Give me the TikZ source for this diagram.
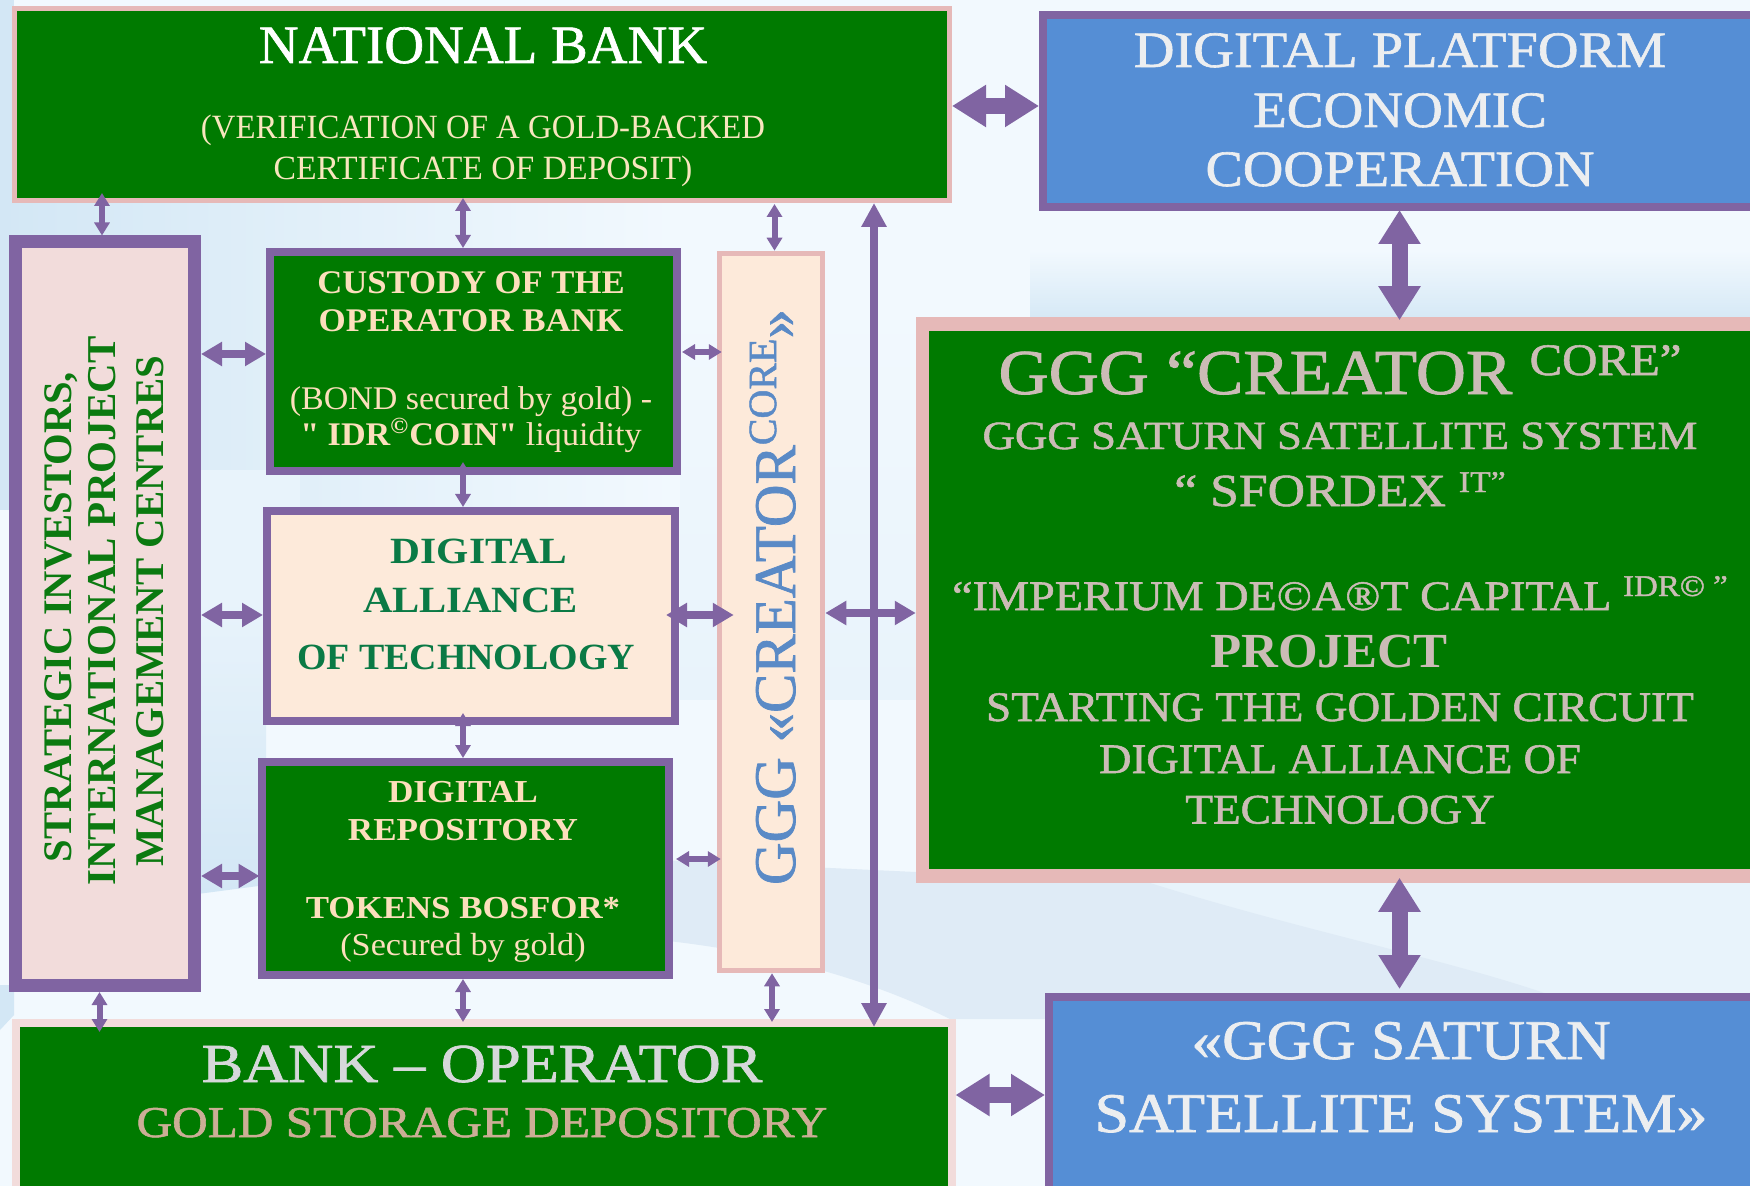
\documentclass[tikz,border=0pt]{standalone}
\usepackage{graphicx}
\usepackage{fontspec}
\setmainfont{Liberation Serif}
\newfontfamily\plainq{Liberation Serif}
\newfontfamily\bev{Liberation Serif}[FakeBold=1.2]
\usetikzlibrary{arrows.meta}
\definecolor{purp}{HTML}{8064A2}
\definecolor{pinkb}{HTML}{E6B9B8}
\definecolor{pinkl}{HTML}{F2DCDB}
\definecolor{peach}{HTML}{FDEADA}
\definecolor{grn}{HTML}{007A00}
\definecolor{blu}{HTML}{558ED5}
\definecolor{cream}{HTML}{F8E6BE}
\definecolor{custc}{HTML}{FCDFBC}
\definecolor{rosegrey}{HTML}{CBBCB6}
\definecolor{silver}{HTML}{D6D8DA}
\definecolor{pearl}{HTML}{ECEEF0}
\definecolor{bronze}{HTML}{CCAE96}
\definecolor{tealg}{HTML}{0A7A45}
\definecolor{stratg}{HTML}{0B7A10}
\definecolor{vblue}{HTML}{5A8AC6}
\definecolor{bgbase}{HTML}{F2F9FE}
\definecolor{bga}{HTML}{D3E7F5}
\definecolor{bgb}{HTML}{DFEBF6}
\definecolor{bgc}{HTML}{E8F3FB}
\newcommand\stk[1]{\vbox{\offinterlineskip\halign{\hfil##\hfil\cr #1\crcr}}}
\newcommand\txl[3]{\fontsize{#1}{#1}\selectfont\rule{0pt}{#2pt}\smash{#3}}
\newcommand\sups[3]{\raisebox{#1pt}{\fontsize{#2}{#2}\selectfont #3}}
\newcommand\sx[2]{\scalebox{#1}[1]{#2}}
\newcommand\bx[6]{%
  \pgfmathsetmacro\bxcx{(#3+#5)/2}\pgfmathsetmacro\bxcy{(#4+#6)/2}%
  \pgfmathsetmacro\bxw{(#5-#3)*0.5}\pgfmathsetmacro\bxh{(#6-#4)*0.5}%
  \node[#1,minimum width=\bxw pt,minimum height=\bxh pt] (#2) at (\bxcx,\bxcy) {};}
\tikzset{
  x=0.5pt,y=-0.5pt,
  boxn/.style={rectangle,inner sep=0pt,outer sep=auto,draw=#1},
  txt/.style={inner sep=0pt,outer sep=0pt,anchor=north,text=#1},
  arrs/.style={line width=3pt,purp,{Triangle[length=6.5pt,width=7.5pt]}-{Triangle[length=6.5pt,width=7.5pt]}},
  arrm/.style={line width=4pt,purp,{Triangle[length=10.5pt,width=11.5pt]}-{Triangle[length=10.5pt,width=11.5pt]}},
  arrl/.style={line width=4pt,purp,{Triangle[length=12pt,width=12pt]}-{Triangle[length=12pt,width=12pt]}},
  arrb/.style={line width=8pt,purp,{Triangle[length=17pt,width=20pt]}-{Triangle[length=17pt,width=20pt]}},
}
\begin{document}
\begin{tikzpicture}
\useasboundingbox (0,0) rectangle (1750,1186);
\clip (0,0) rectangle (1750,1186);
% background
\fill[bgbase] (0,0) rectangle (1750,1186);
\shade[left color=bga,right color=bgbase] (0,200) rectangle (680,510);
\fill[bgc] (190,470) -- (300,470) -- (300,620) -- (190,620) -- cycle;
\shade[top color=bgc,bottom color=bga] (190,600) -- (266,600) -- (266,885) -- (190,895) -- cycle;
\shade[top color=bgbase,bottom color=bgc] (680,300) -- (916,300) -- (916,700) -- (680,700) -- cycle;
\fill[bgc] (1040,883) -- (1750,883) -- (1750,995) -- (1040,995) -- cycle;
\fill[bgb] (660,860) -- (1150,883) .. controls (1300,930) and (1450,960) .. (1550,995) -- (1045,995) -- (1045,1019) -- (950,1019) .. controls (850,970) and (750,950) .. (660,940) -- cycle;
\shade[top color=bgbase,bottom color=bga] (1030,250) -- (1750,250) -- (1750,325) -- (1030,325) -- cycle;
\fill[bga] (0,0) rectangle (14,205);
\fill[bga] (0,985) -- (14,985) -- (14,1015) -- (0,1030) -- cycle;
% boxes
\bx{boxn=pinkb,fill=grn,line width=2.5pt}{nat}{14.5}{8.5}{949.5}{200.5}
\bx{boxn=purp,fill=blu,line width=4pt}{plat}{1043}{15}{1800}{207}
\bx{boxn=pinkb,fill=grn,line width=6.75pt}{core}{922.5}{324}{1800}{876}
\bx{boxn=purp,fill=blu,line width=4pt}{sat}{1049}{997}{1800}{1300}
\bx{boxn=pinkl,fill=grn,line width=4pt}{bank}{16}{1023}{951.5}{1300}
\bx{boxn=purp,fill=pinkl,line width=6.5pt}{strat}{15.75}{242}{194.5}{985.5}
\bx{boxn=purp,fill=grn,line width=4pt}{cust}{270}{252}{677}{471}
\bx{boxn=purp,fill=peach,line width=4pt}{alli}{267}{511}{675}{721}
\bx{boxn=purp,fill=grn,line width=4pt}{repo}{261.5}{762}{669}{975}
\bx{boxn=pinkb,fill=peach,line width=2.75pt}{crea}{719.5}{253.5}{822.5}{970.5}
% helper x / y positions
\coordinate (xa) at (102,0);
\coordinate (xb) at (463,0);
\coordinate (xc) at (774.5,0);
\coordinate (xd) at (874,0);
\coordinate (xe) at (99.5,0);
\coordinate (xf) at (772,0);
\coordinate (xg) at (1399.5,0);
\coordinate (ya) at (0,354);
\coordinate (yb) at (0,352);
\coordinate (yc) at (0,615);
\coordinate (yd) at (0,613);
\coordinate (ye) at (0,876);
\coordinate (yf) at (0,859);
\coordinate (yg) at (0,106);
\coordinate (yh) at (0,1095);
% connectors
\draw[arrs,shorten <=-5pt] (nat.south -| xa) -- (strat.north -| xa);
\draw[arrs,shorten <=-2.5pt] (nat.south -| xb) -- (cust.north -| xb);
\draw[arrs,shorten <=.5pt] (nat.south -| xc) -- (crea.north -| xc);
\draw[arrl,shorten >=-4pt] (nat.south -| xd) -- (bank.north -| xd);
\draw[arrm] (strat.east |- ya) -- (cust.west |- ya);
\draw[arrs,shorten >=-2.5pt,shorten <=.5pt] (cust.east |- yb) -- (crea.west |- yb);
\draw[arrs,shorten <=-6.5pt] (cust.south -| xb) -- (alli.north -| xb);
\draw[arrm] (strat.east |- yc) -- (alli.west |- yc);
\draw[arrm,shorten <=-6.5pt,shorten >=-8.5pt] (alli.east |- yc) -- (crea.west |- yc);
\draw[arrm] (crea.east |- yd) -- (core.west |- yd);
\draw[arrs,shorten <=-6pt] (alli.south -| xb) -- (repo.north -| xb);
\draw[arrm,shorten >=-1pt] (strat.east |- ye) -- (repo.west |- ye);
\draw[arrs,shorten <=1.5pt,shorten >=-2pt] (repo.east |- yf) -- (crea.west |- yf);
\draw[arrs,shorten >=-6.5pt] (strat.south -| xe) -- (bank.north -| xe);
\draw[arrs,shorten >=-1.5pt] (repo.south -| xb) -- (bank.north -| xb);
\draw[arrs,shorten >=-1.5pt] (crea.south -| xf) -- (bank.north -| xf);
\draw[arrb] (nat.east |- yg) -- (plat.west |- yg);
\draw[arrb,shorten >=-1.5pt,shorten <=-.5pt] (plat.south -| xg) -- (core.north -| xg);
\draw[arrb,shorten <=-2.5pt,shorten >=2pt] (core.south -| xg) -- (sat.north -| xg);
\draw[arrb] (bank.east |- yh) -- (sat.west |- yh);
% texts
\node[txt=white] (tnat) at (483,63) {\stk{\txl{27}{0}{\bev\sx{1.02}{NATIONAL BANK}}\cr
  \color{cream}\txl{17}{38}{\sx{.965}{(VERIFICATION OF A GOLD-BACKED}}\cr
  \color{cream}\txl{17}{20.5}{\sx{.99}{CERTIFICATE OF DEPOSIT)}}\cr}};
\node[txt=pearl] (tplat) at (1400,67) {\stk{\txl{25.5}{0}{\bev\sx{1.105}{DIGITAL PLATFORM}}\cr
  \txl{25.5}{30}{\bev\sx{1.08}{ECONOMIC}}\cr\txl{25.5}{29.5}{\bev\sx{1.098}{COOPERATION}}\cr}};
\node[txt=custc] (tcust) at (471,294) {\stk{\txl{16.5}{0}{\bfseries\sx{1.05}{CUSTODY OF THE}}\cr
  \txl{16.5}{19}{\bfseries\sx{1.06}{OPERATOR BANK}}\cr
  \txl{16.5}{39}{\sx{1.03}{(BOND secured by gold) -}}\cr
  \txl{16.5}{18}{\sx{1.035}{{\plainq\bfseries " IDR\textsuperscript{©}COIN"} liquidity}}\cr}};
\node[txt=tealg] (talli) at (469,563) {\stk{\txl{18.5}{0}{\bfseries\hspace*{10pt}\sx{1.12}{DIGITAL}}\cr
  \txl{18.5}{25}{\bfseries\hspace*{1.5pt}\sx{1.10}{ALLIANCE}}\cr
  \txl{18.5}{28.5}{\bfseries\hspace*{-3pt}\sx{1.024}{OF TECHNOLOGY}}\cr}};
\node[txt=custc] (trepo) at (463,802) {\stk{\txl{16}{0}{\bfseries\sx{1.10}{DIGITAL}}\cr
  \txl{16}{19}{\bfseries\sx{1.096}{REPOSITORY}}\cr
  \txl{16}{39}{\bfseries\sx{1.09}{TOKENS BOSFOR*}}\cr
  \txl{16}{18.5}{\sx{1.07}{(Secured by gold)}}\cr}};
\node[txt=rosegrey] (tcore) at (1340,394) {\stk{%
  \txl{32}{0}{\bev\sx{1.085}{GGG “CREATOR \sups{9.5}{22.5}{CORE”}}}\cr
  \txl{20}{27.5}{\bev\sx{1.123}{GGG SATURN SATELLITE SYSTEM}}\cr
  \txl{23}{28.5}{\bev\sx{1.125}{“ SFORDEX \sups{7}{15}{IT”}}}\cr
  \txl{21}{52}{\bev\sx{1.10}{“IMPERIUM DE©A®T CAPITAL \sups{7}{15}{IDR© ”}}}\cr
  \txl{24.5}{28.5}{\makebox[0pt]{\hspace*{-11pt}\bfseries\sx{1.04}{PROJECT}}}\cr
  \txl{21}{27}{\bev\sx{1.08}{STARTING THE GOLDEN CIRCUIT}}\cr
  \txl{21}{26}{\bev\sx{1.067}{DIGITAL ALLIANCE OF}}\cr
  \txl{21}{25.25}{\bev\sx{1.078}{TECHNOLOGY}}\cr}};
\node[txt=pearl] (tsat) at (1401,1059) {\stk{\txl{28}{0}{\bev\sx{1.10}{«GGG SATURN}}\cr
  \txl{28}{36.5}{\bev\sx{1.11}{SATELLITE SYSTEM»}}\cr}};
\node[txt=silver] (tbank) at (482,1082) {\stk{\txl{27.5}{0}{\bev\sx{1.135}{BANK – OPERATOR}}\cr
  \color{bronze}\txl{22}{27.5}{\bev\sx{1.12}{GOLD STORAGE DEPOSITORY}}\cr}};
\node[inner sep=0pt,rotate=90,text=stratg] (tst1) at (71,617) [anchor=base] {\fontsize{20.3}{20.3}\selectfont\bfseries STRATEGIC INVESTORS,};
\node[inner sep=0pt,rotate=90,text=stratg] (tst2) at (115,611) [anchor=base] {\fontsize{20.5}{20.5}\selectfont\bfseries INTERNATIONAL PROJECT};
\node[inner sep=0pt,rotate=90,text=stratg] (tst3) at (163,611) [anchor=base] {\fontsize{20.4}{20.4}\selectfont\bfseries MANAGEMENT CENTRES};
\node[inner sep=0pt,rotate=90,text=vblue] (tvert) at (795,597) [anchor=base] {\fontsize{29.5}{29.5}\selectfont\bev GGG «CREATOR\sups{9.5}{20}{CORE}»};
\end{tikzpicture}
\end{document}
